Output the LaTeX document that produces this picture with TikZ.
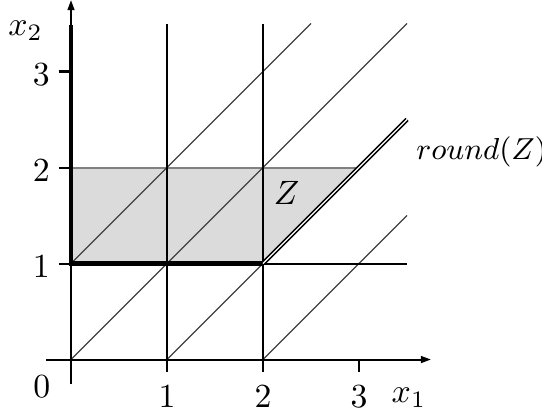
\documentclass[tikz,border=0pt]{standalone}
\usetikzlibrary{arrows.meta}
\begin{document}
\begin{tikzpicture}[x=1cm,y=1cm,
  axisline/.style={line width=0.6pt,black},
  gridline/.style={line width=0.6pt,black},
  diag/.style={line width=0.35pt,black!75},
  thickline/.style={line width=1.3pt,black},
  dbl/.style={double=white,double distance=0.4pt,line width=0.45pt,black},
  lbl/.style={inner sep=0pt,font=\normalsize},
  tip/.style={-{Triangle[length=3pt,width=2pt]}}]
\useasboundingbox (-0.7396,-0.578) rectangle (4.906,3.745);
% coordinates
\coordinate (O) at (0,0);
\coordinate (A01) at (0,1);
\coordinate (A21) at (2,1);
\coordinate (A32) at (3,2);
\coordinate (A02) at (0,2);
% shaded Z
\fill[black!14] (A01) -- (A21) -- (A32) -- (A02) -- cycle;
\draw[line width=0.6pt,black!50] (A02) -- (A32);
% diagonals
\draw[diag] (O) -- (3.5,3.5);
\draw[diag] (A01) -- (2.5,3.5);
\draw[diag] (1,0) -- (A21);
\draw[diag] (2,0) -- (3.5,1.5);
% grid lines
\draw[gridline] (1,-0.13) -- (1,3.5);
\draw[gridline] (2,-0.13) -- (2,3.5);
\draw[gridline] (-0.13,1) -- (3.5,1);
\draw[gridline] (-0.13,2) -- (0,2);
\draw[gridline] (-0.13,3) -- (0,3);
\draw[gridline] (3,-0.13) -- (3,0);
% axes
\draw[axisline,tip] (-0.26,0) -- (3.75,0);
\draw[axisline,tip] (0,-0.26) -- (0,3.745);
% round(Z)
\draw[thickline] (0,3.48) -- (A01) -- (A21);
\draw[dbl] (A21) -- (3.5,2.5);
% labels
\node[lbl] (l0) at (-0.305,-0.285) {$0$};
\node[lbl] (lx1) at (1,-0.39) {$1$};
\node[lbl] (lx2) at (2,-0.39) {$2$};
\node[lbl] (lx3) at (3,-0.39) {$3$};
\node[lbl] (ly1) at (-0.31,0.97) {$1$};
\node[lbl] (ly2) at (-0.31,1.97) {$2$};
\node[lbl] (ly3) at (-0.31,2.97) {$3$};
\node[lbl] (xone) at (3.52,-0.40) {$x_1$};
\node[lbl] (xtwo) at (-0.474,3.42) {$x_2$};
\node[lbl] (zl) at (2.245,1.734) {$Z$};
\node[lbl,anchor=west,font=\fontsize{8.9pt}{10pt}\selectfont] (rz) at (3.59,2.16) {$round(Z)$};
\end{tikzpicture}
\end{document}
